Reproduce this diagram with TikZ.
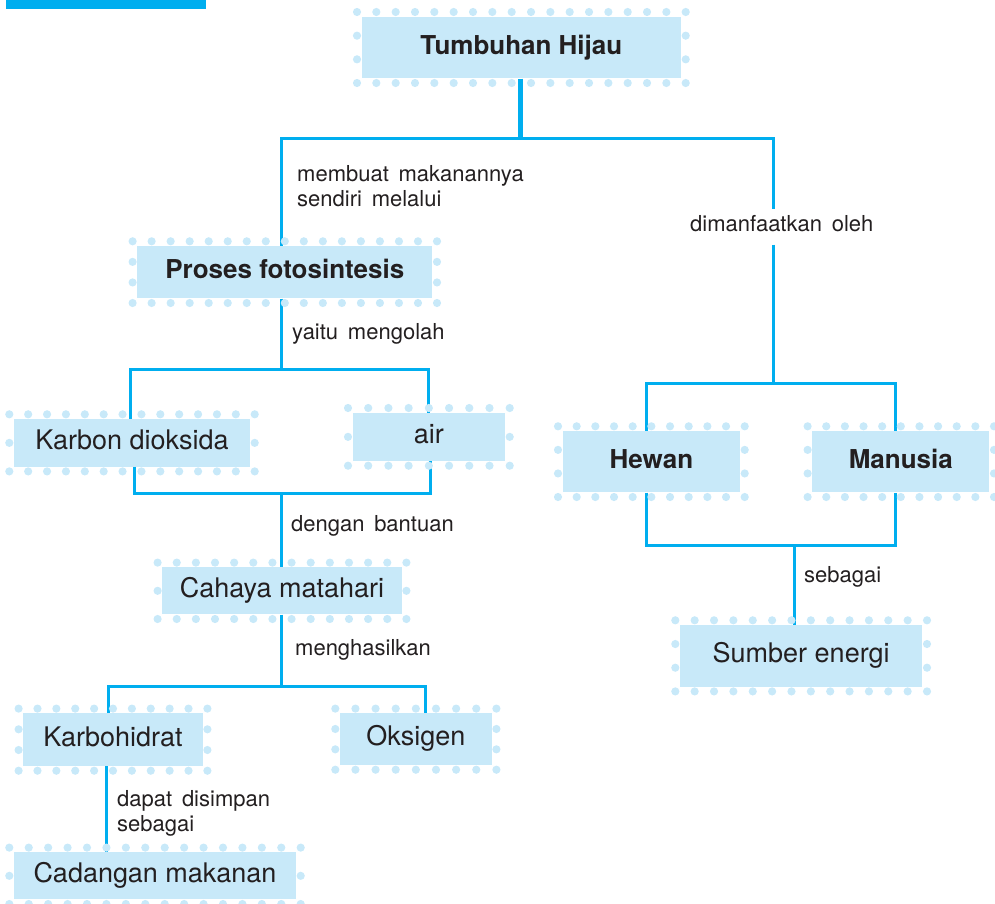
\documentclass[tikz,border=0pt]{standalone}
\usepackage{fontspec}
\setmainfont{TeX Gyre Heros}
\newfontfamily\lblfont{TeX Gyre Heros}[WordSpace=1.6]
\definecolor{boxc}{RGB}{200,233,249}
\definecolor{dotc}{RGB}{200,233,249}
\definecolor{linec}{RGB}{0,174,239}
\definecolor{txtc}{RGB}{35,31,32}
\newdimen\dfXa \newdimen\dfYa \newdimen\dfXb \newdimen\dfYb
\newcommand\dotframe[1]{%
  \pgfextractx{\dfXa}{\pgfpointanchor{#1}{south west}}%
  \pgfextracty{\dfYa}{\pgfpointanchor{#1}{south west}}%
  \pgfextractx{\dfXb}{\pgfpointanchor{#1}{north east}}%
  \pgfextracty{\dfYb}{\pgfpointanchor{#1}{north east}}%
  \pgfmathsetmacro\dfxa{\dfXa-4.5}%
  \pgfmathsetmacro\dfya{\dfYa-4.5}%
  \pgfmathsetmacro\dfxb{\dfXb+4.5}%
  \pgfmathsetmacro\dfyb{\dfYb+4.5}%
  \pgfmathsetmacro\dfw{\dfxb-\dfxa}%
  \pgfmathsetmacro\dfh{\dfyb-\dfya}%
  \pgfmathtruncatemacro\dfnx{round(\dfw/19.3)}%
  \pgfmathtruncatemacro\dfny{floor(\dfh/19.5)}%
  \pgfmathsetmacro\dfdx{\dfw/\dfnx}%
  \pgfmathsetmacro\dfdy{\dfh/\dfny}%
  \pgfmathtruncatemacro\dfnyy{\dfny-1}%
  \foreach \i in {0,...,\dfnx}{%
    \fill[dotc] (\dfxa pt+\i*\dfdx pt,\dfya pt) circle[radius=4.1pt]
                (\dfxa pt+\i*\dfdx pt,\dfyb pt) circle[radius=4.1pt];}%
  \foreach \j in {1,...,\dfnyy}{%
    \fill[dotc] (\dfxa pt,\dfya pt+\j*\dfdy pt) circle[radius=4.1pt]
                (\dfxb pt,\dfya pt+\j*\dfdy pt) circle[radius=4.1pt];}%
}
\tikzset{
  box/.style={fill=boxc, inner sep=0pt, text=txtc, font=\fontsize{27}{30}\selectfont,
    text height=18pt, text depth=5pt, anchor=center},
  boldbox/.style={box, font=\fontsize{26}{30}\selectfont\bfseries},
  lbl/.style={font=\lblfont\fontsize{22}{25}\selectfont, text=txtc, inner sep=0pt, anchor=base west},
  conn/.style={draw=linec, line width=3pt},
  trunk/.style={draw=linec, line width=5pt},
}
\begin{document}
\begin{tikzpicture}[x=1pt,y=-1pt]
\useasboundingbox (0,0) rectangle (995,903);
% top-left bar
\fill[linec] (6,0) rectangle (206,8.7);

% boxes
\node[boldbox, minimum width=319.3pt, minimum height=61.6pt] (tum) at (521.35,47.5) {Tumbuhan Hijau};
\node[boldbox, minimum width=295pt, minimum height=52.3pt] (pro) at (284.8,272.15) {Proses fotosintesis};
\node[box, minimum width=236pt, minimum height=47.7pt] (kar) at (132,442.85) {Karbon dioksida};
\node[box, minimum width=152.3pt, minimum height=48.3pt] (air) at (428.85,436.85) {air};
\node[box, minimum width=239.4pt, minimum height=47pt] (cah) at (282,590.8) {Cahaya matahari};
\node[box, minimum width=179.4pt, minimum height=52.7pt] (krb) at (113,739.65) {Karbohidrat};
\node[box, minimum width=151.7pt, minimum height=51.7pt] (oks) at (415.85,739.15) {Oksigen};
\node[box, minimum width=282pt, minimum height=47pt] (cad) at (155,875.8) {Cadangan makanan};
\node[boldbox, minimum width=177.3pt, minimum height=61.3pt] (hew) at (651.35,461.65) {Hewan};
\node[boldbox, minimum width=177pt, minimum height=61.3pt] (man) at (900.8,461.65) {Manusia};
\node[box, minimum width=242.3pt, minimum height=61.7pt] (sum) at (801.15,655.85) {Sumber energi};

% labels
\node[lbl, align=left, anchor=north west] (l1) at (297,165) {membuat makanannya\\sendiri melalui};
\node[lbl, inner ysep=5.5pt, text depth=8pt] (dim) at (690,231) {dimanfaatkan oleh};
\node[lbl] (l3) at (292,339) {yaitu mengolah};
\node[lbl] (l4) at (291,531) {dengan bantuan};
\node[lbl] (l5) at (295,655) {menghasilkan};
\node[lbl, align=left, anchor=north west] (l6) at (117,790) {dapat disimpan\\sebagai};
\node[lbl] (l7) at (804,582) {sebagai};

% junction coordinates
\coordinate (t1) at (520,138);
\coordinate (t1L) at (281.7,138);
\coordinate (t1R) at (773,138);
\coordinate (r1) at (773,383);
\coordinate (r1L) at (646.5,383);
\coordinate (r1R) at (895,383);
\coordinate (r2L) at (646,545);
\coordinate (r2R) at (895,545);
\coordinate (r2) at (794.5,545);
\coordinate (p1) at (281.7,369);
\coordinate (p1L) at (130,369);
\coordinate (p1R) at (428.3,369);
\coordinate (p2L) at (134.3,493.3);
\coordinate (p2R) at (430.7,493.3);
\coordinate (p2) at (281.7,493.3);
\coordinate (c1) at (281,686.7);
\coordinate (c1L) at (108.3,686.7);
\coordinate (c1R) at (425,686.7);
\coordinate (k1) at (106.7,800);

% connectors
\draw[trunk] (tum.south -| t1) -- (t1);
\draw[conn] (pro.north -| t1L) -- (t1L) -- (t1R) -- (dim.north -| t1R);
\draw[conn] (dim.south -| t1R) -- (r1);
\draw[conn] (hew.north -| r1L) -- (r1L) -- (r1R) -- (man.north -| r1R);
\draw[conn] (hew.south -| r2L) -- (r2L) -- (r2R) -- (man.south -| r2R);
\draw[conn] (r2) -- (sum.north -| r2);
\draw[conn] (pro.south -| p1) -- (p1);
\draw[conn] (kar.north -| p1L) -- (p1L) -- (p1R) -- (air.north -| p1R);
\draw[conn] (kar.south -| p2L) -- (p2L) -- (p2R) -- (air.south -| p2R);
\draw[conn] (p2) -- (cah.north -| p2);
\draw[conn] (cah.south -| c1) -- (c1);
\draw[conn] (krb.north -| c1L) -- (c1L) -- (c1R) -- (oks.north -| c1R);
\draw[conn] (krb.south -| k1) -- (cad.north -| k1);

% dot frames
\dotframe{tum}
\dotframe{pro}
\dotframe{kar}
\dotframe{air}
\dotframe{cah}
\dotframe{krb}
\dotframe{oks}
\dotframe{cad}
\dotframe{hew}
\dotframe{man}
\dotframe{sum}
\end{tikzpicture}
\end{document}
